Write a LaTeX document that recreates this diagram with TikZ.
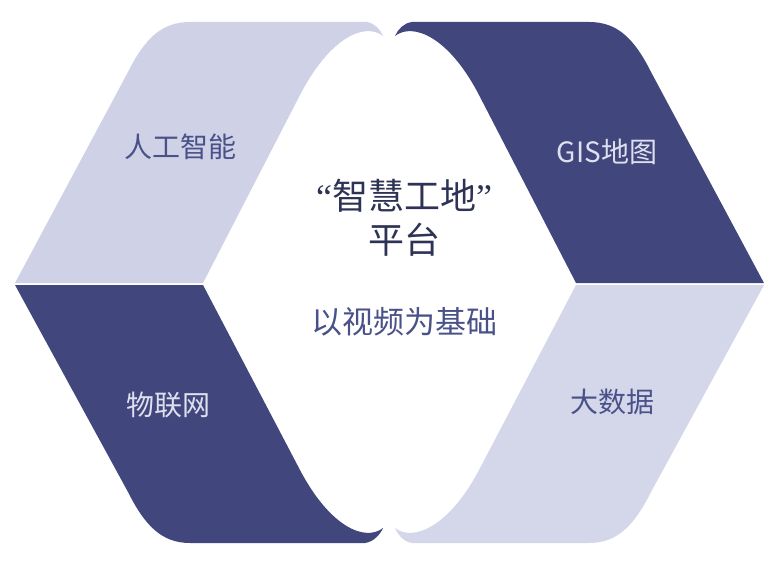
\documentclass[tikz,border=0pt]{standalone}
\usepackage{fontspec}
\setmainfont{Noto Sans CJK SC}
\newfontfamily\quotefont{Liberation Serif}
\usetikzlibrary{positioning}

\definecolor{navy}{RGB}{65,71,125}
\definecolor{lavender}{RGB}{207,210,230}
\definecolor{lavenderb}{RGB}{212,215,234}
\definecolor{navytext}{RGB}{74,81,137}
\definecolor{lighttext}{RGB}{221,224,238}
\definecolor{titletext}{RGB}{46,51,85}

\begin{document}
\begin{tikzpicture}[
    x=1pt, y=-1pt,
    label/.style={font=\fontsize{28}{30}\selectfont, align=center, inner sep=0pt},
    darklabel/.style={label, text=navytext},
    brightlabel/.style={label, text=lighttext},
    title/.style={font=\fontsize{36}{44}\selectfont, align=center, text=titletext, inner sep=0pt},
    subtitle/.style={font=\fontsize{31}{33}\selectfont, text=navytext, inner sep=0pt}
]
\useasboundingbox (0,0) rectangle (778,564);

% Left ribbons
\fill[lavender] (15,283) -- (128,72) .. controls (145,38) and (162,22) .. (190,22)
    -- (367,22) .. controls (374,23) and (380,29) .. (383,36)
    .. controls (365,22) and (330,37) .. (300,95) -- (203,283) -- cycle;
\fill[navy] (15,285) -- (128,492) .. controls (145,526) and (162,543) .. (190,543)
    -- (365,543) .. controls (373,542) and (380,535) .. (383,528)
    .. controls (365,542) and (330,527) .. (300,470) -- (203,285) -- cycle;

% Right ribbons
\fill[navy] (764,283) -- (651,72) .. controls (634,38) and (617,22) .. (589,22)
    -- (412,22) .. controls (404,23) and (398,29) .. (395,36)
    .. controls (413,22) and (449,37) .. (479,95) -- (576,283) -- cycle;
\fill[lavenderb] (764,285) -- (651,492) .. controls (634,526) and (617,543) .. (589,543)
    -- (412,543) .. controls (404,542) and (398,535) .. (395,528)
    .. controls (413,542) and (449,527) .. (479,470) -- (576,285) -- cycle;

% Labels
\node[darklabel] (ai) at (180,147) {人工智能};
\node[brightlabel] (gis) at (607,152) {GIS地图};
\node[brightlabel] (iot) at (168,405) {物联网};
\node[darklabel] (bigdata) at (612,402) {大数据};

% Centre
\node[title] (platform) at (404,218) {{\quotefont “}智慧工地{\quotefont ”}\\平台};
\node[subtitle] (video) at (404,322) {以视频为基础};

\end{tikzpicture}
\end{document}
